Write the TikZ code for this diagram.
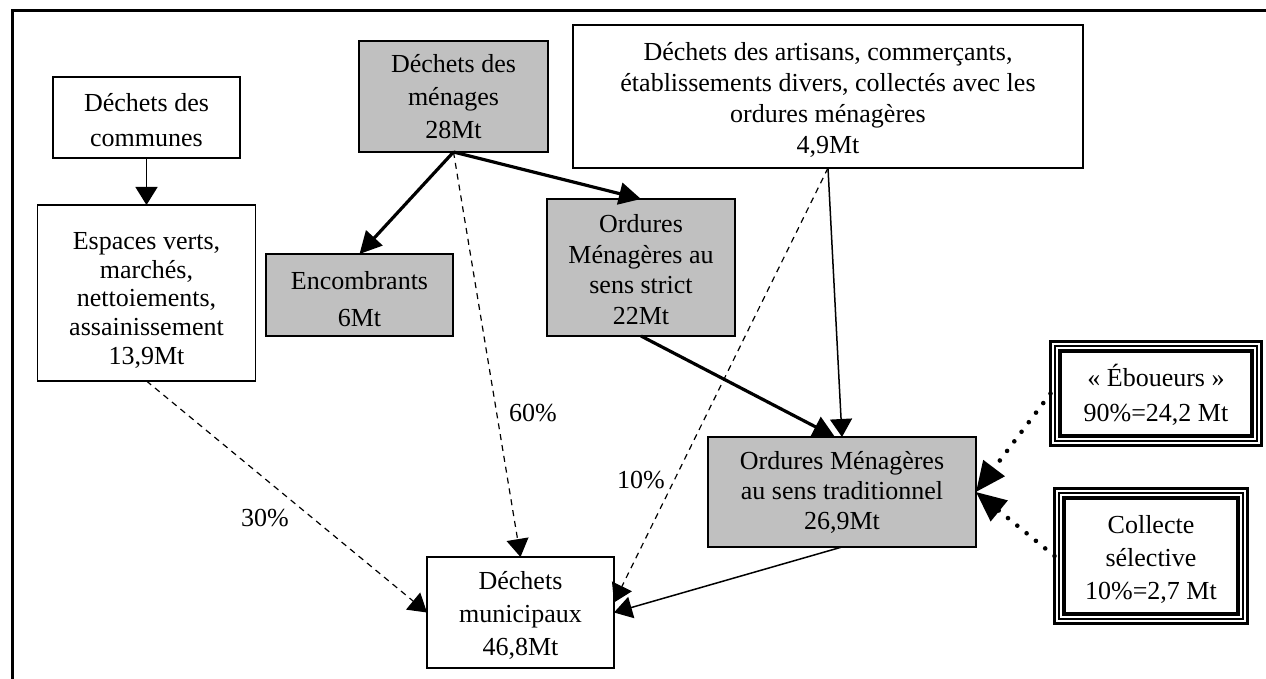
\documentclass[tikz,border=0pt]{standalone}
\usepackage{fontspec}
\setmainfont{Liberation Serif}
\usetikzlibrary{arrows.meta,calc}
\definecolor{boxgrey}{RGB}{192,192,192}

\begin{document}
\begin{tikzpicture}[x=0.5pt,y=-0.5pt,
  every node/.style={font=\fontsize{13}{15.5}\selectfont},
  lsp/.style={font=\fontsize{13}{#1}\selectfont},
  box/.style={draw, line width=0.75pt, align=center, inner sep=0pt, outer sep=0pt, fill=white},
  greybox/.style={box, fill=boxgrey},
  triplebox/.style={box, line width=2pt},
  plain/.style={line width=0.75pt, -{Triangle[length=9pt,width=11pt]}},
  heavy/.style={line width=1.6pt, -{Triangle[length=11pt,width=11pt]}},
  share/.style={line width=0.6pt, dash pattern=on 3pt off 2.5pt, -{Triangle[length=9pt,width=11pt]}},
  dotline/.style={line width=2.3pt, line cap=round, dash pattern=on 0pt off 6pt, -{Triangle[length=15pt,width=13pt]}},
  pct/.style={inner sep=0pt},
]
\useasboundingbox (0,0) rectangle (1266,679);

% page frame (top and left edges)
\draw[line width=1.5pt] (12,690) -- (12,11) -- (1280,11);

% boxes
\node[box, lsp=17.5pt, minimum width=93.5pt, minimum height=40.5pt] (communes) at (146.5,117.5)
  {\rule{0pt}{12pt}Déchets des\\communes};
\node[box, lsp=14.5pt, minimum width=109pt, minimum height=88pt] (espaces) at (146.5,293)
  {\rule{0pt}{16pt}Espaces verts,\\marchés,\\nettoiements,\\assainissement\\13,9Mt};
\node[greybox, lsp=16.5pt, minimum width=94.5pt, minimum height=55.5pt] (menages) at (453.5,96.5)
  {Déchets des\\ménages\\28Mt};
\node[greybox, lsp=18.5pt, minimum width=93.5pt, minimum height=41pt] (encombrants) at (359.5,295)
  {\rule{0pt}{13pt}Encombrants\\6Mt};
\node[box, lsp=15.5pt, minimum width=255pt, minimum height=71.5pt] (artisans) at (828,96.5)
  {\rule{0pt}{13pt}Déchets des artisans, commerçants,\\établissements divers, collectés avec les\\ordures ménagères\\4,9Mt};
\node[greybox, lsp=15.25pt, minimum width=94pt, minimum height=68.5pt] (strict) at (641,267.5)
  {\rule{0pt}{11pt}Ordures\\Ménagères au\\sens strict\\22Mt};
\node[greybox, lsp=15pt, minimum width=134pt, minimum height=55pt] (trad) at (842,492)
  {Ordures Ménagères\\au sens traditionnel\\26,9Mt};
\node[box, lsp=16.25pt, minimum width=93.5pt, minimum height=55.5pt] (municipaux) at (520.5,612.5)
  {\rule{0pt}{12pt}Déchets\\municipaux\\46,8Mt};
\node[triplebox, lsp=17.5pt, minimum width=96pt, minimum height=42.5pt] (eboueurs) at (1156,393.5)
  {\rule{0pt}{13pt}« Éboueurs »\\90\%=24,2 Mt};
\node[triplebox, lsp=16.5pt, minimum width=87pt, minimum height=58pt] (collecte) at (1151,556)
  {\rule{0pt}{13pt}Collecte\\sélective\\10\%=2,7 Mt};

% extra rules of the framed boxes
\foreach \n in {eboueurs,collecte}{
  \draw[line width=0.6pt] ($(\n.north west)+(-5,-5)$) rectangle ($(\n.south east)+(5,5)$);
  \draw[line width=1.4pt] ($(\n.north west)+(-9.5,-9.5)$) rectangle ($(\n.south east)+(9.5,9.5)$);
}

% flows
\draw[plain] (communes.south) -- (espaces.north);
\draw[heavy] (menages.south) -- (encombrants.north);
\draw[heavy] (menages.south) -- (strict.north);
\draw[share] (menages.south) -- (municipaux.north);
\draw[share] (espaces.south) -- (municipaux.west);
\draw[share] (artisans.south) -- ($(municipaux.east)+(0,-10)$);
\draw[plain] (artisans.south) -- (trad.north);
\draw[heavy] (strict.south) -- ($(trad.north)+(-7,0)$);
\draw[plain] (trad.south) -- (municipaux.east);
\draw[dotline] (eboueurs.west) ++(-9.5,0) -- (trad.east);
\draw[dotline] (collecte.west) ++(-9.5,0) -- (trad.east);

% shares
\node[pct] (p60) at (533,413) {60\%};
\node[pct] (p30) at (265,518) {30\%};
\node[pct] (p10) at (641,480) {10\%};
\end{tikzpicture}
\end{document}
